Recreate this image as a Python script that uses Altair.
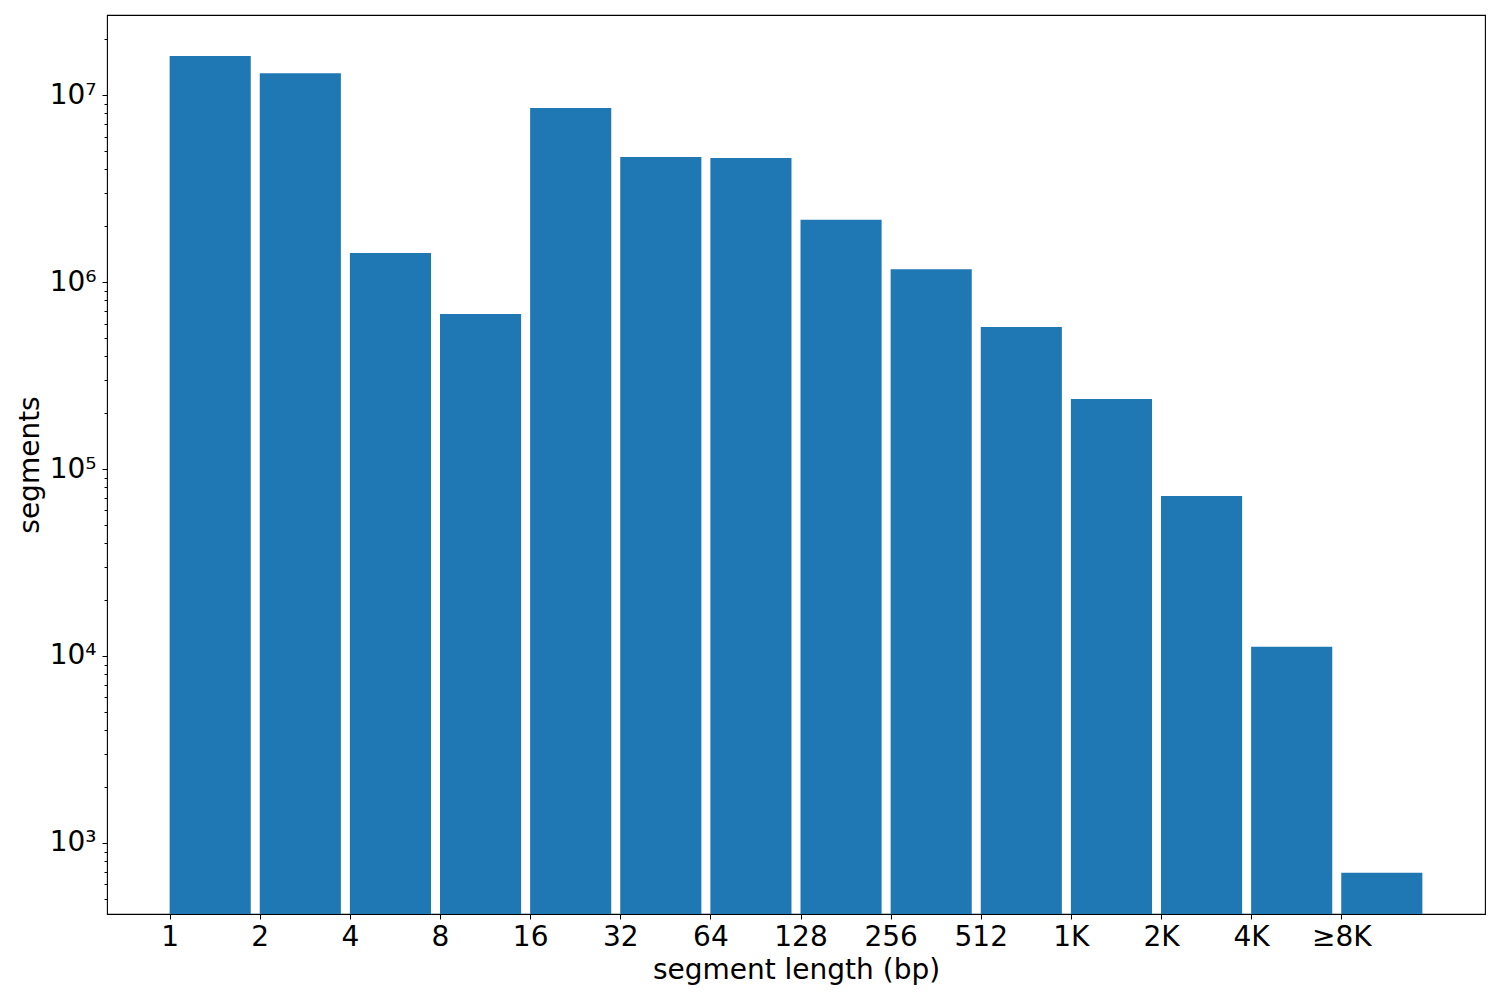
import json
import altair as alt
import pandas as pd

# segment length bins and counts
length_labels = ["1", "2", "4", "8", "16", "32", "64", "128", "256", "512",
                 "1K", "2K", "4K", "≥8K"]
segment_counts = [1.62e7, 1.31e7, 1.43e6, 6.74e5, 8.52e6, 4.66e6, 4.60e6,
                  2.15e6, 1.17e6, 5.74e5, 2.37e5, 7.18e4, 1.12e4, 692]

y_major = [1e3, 1e4, 1e5, 1e6, 1e7]
y_major_labels = ["10³", "10⁴", "10⁵", "10⁶", "10⁷"]
y_lo, y_hi = 417, 2.68e7
y_minor = [m * 10 ** k for k in range(2, 8) for m in range(2, 10)
           if y_lo <= m * 10 ** k <= y_hi]

bar_w = 0.9
x_lo, x_hi = -0.695, 14.595

df = pd.DataFrame({
    "label": length_labels,
    "count": segment_counts,
    "pos": list(range(len(length_labels))),
})
df["end"] = df["pos"] + bar_w

FONT = "DejaVu Sans"
FS = 28

x_scale = alt.Scale(domain=[x_lo, x_hi], nice=False, zero=False)
y_scale = alt.Scale(type="log", domain=[y_lo, y_hi], nice=False)

x_label_expr = json.dumps(length_labels, ensure_ascii=False) + "[round(datum.value)]"
y_label_expr = (json.dumps(y_major_labels, ensure_ascii=False)
                + "[round(log(datum.value)/LN10) - 3]")

bars = alt.Chart(df).mark_bar(color="#1f77b4", clip=True).encode(
    x=alt.X("pos:Q", scale=x_scale,
            axis=alt.Axis(values=list(range(len(length_labels))),
                          labelExpr=x_label_expr, title="segment length (bp)",
                          titlePadding=5)),
    x2="end:Q",
    y=alt.Y("count:Q", scale=y_scale,
            axis=alt.Axis(values=y_major, labelExpr=y_label_expr, title="segments",
                          titlePadding=5, orient="left", labelPadding=6)),
    y2=alt.datum(y_lo),
)

minor = alt.Chart(df).mark_point(opacity=0).encode(
    y=alt.Y("count:Q", scale=y_scale,
            axis=alt.Axis(values=y_minor, labels=False, title=None,
                          tickSize=3, orient="left")),
)

chart = alt.layer(bars, minor).resolve_axis(y="independent").properties(
    width=1378, height=899,
    autosize=alt.AutoSizeParams(type="none"),
    padding={"left": 99, "top": 7, "right": 7, "bottom": 78},
).configure_view(
    stroke="black", strokeWidth=1.1
).configure_axis(
    grid=False, domain=False, tickColor="black", tickSize=5, tickWidth=1,
    labelPadding=4, labelFontSize=FS, labelFont=FONT, labelColor="black",
    titleFont=FONT, titleFontSize=FS, titleFontWeight="normal",
    titleColor="black", labelFlush=False, labelOverlap=False,
)

chart.save("out.html", embed_options={"renderer": "svg", "actions": False})
